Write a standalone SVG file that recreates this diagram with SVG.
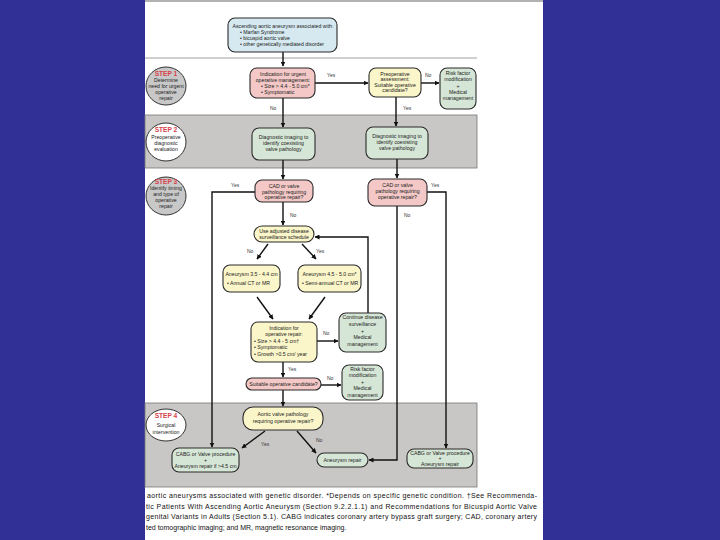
<svg xmlns="http://www.w3.org/2000/svg" width="720" height="540" viewBox="0 0 720 540">
<style>
.t{font-family:"Liberation Sans",Arial,sans-serif;font-size:5.2px;fill:#222;text-anchor:middle}
.l{text-anchor:start}
.lb{font-family:"Liberation Sans",Arial,sans-serif;font-size:5px;fill:#333}
.st{font-family:"Liberation Sans",Arial,sans-serif;font-size:6.6px;font-weight:bold;fill:#d8414a;text-anchor:middle}
.cap{font-family:"Liberation Sans",Arial,sans-serif;font-size:7px;fill:#111}
.box{stroke:#2a2a2a;stroke-width:1.1}
.blue{fill:#d6e9f1}.pink{fill:#f3c8c6}.yel{fill:#fbf6c9}.grn{fill:#d6e6d6}
.c{fill:none;stroke:#111;stroke-width:1.4}
.circ{stroke:#333;stroke-width:1}
</style>
<defs>
<marker id="ah" viewBox="0 0 10 10" refX="9" refY="5" markerWidth="5" markerHeight="5" markerUnits="userSpaceOnUse" orient="auto">
<path d="M0,0 L10,5 L0,10 z" fill="#111"/>
</marker>
</defs>
<rect x="0" y="0" width="720" height="540" fill="#303096"/>
<rect x="145" y="0" width="398" height="540" fill="#ffffff"/>
<g id="bands">
<line x1="145" y1="1" x2="543" y2="1" stroke="#999" stroke-width="1.5"/>
<line x1="145" y1="58" x2="477" y2="58" stroke="#888" stroke-width="0.8"/>
<rect x="145" y="115" width="332" height="53" fill="#c9c7c5" stroke="#777" stroke-width="0.8"/>
<rect x="145" y="403" width="332" height="84" fill="#c9c7c5" stroke="#777" stroke-width="0.8"/>
</g>
<g id="steps">
<g id="step1"><ellipse cx="166" cy="86" rx="20" ry="19" fill="#c8c8c8" class="circ"/>
<text class="st" x="166" y="76">STEP 1</text>
<text class="t" x="166" y="82">Determine</text>
<text class="t" x="166" y="88">need for urgent</text>
<text class="t" x="166" y="94">operative</text>
<text class="t" x="166" y="100">repair</text></g>
<g id="step2"><ellipse cx="166" cy="142" rx="20" ry="19" fill="#ffffff" class="circ"/>
<text class="st" x="166" y="132">STEP 2</text>
<text class="t" x="166" y="139">Preoperative</text>
<text class="t" x="166" y="145">diagnostic</text>
<text class="t" x="166" y="151">evaluation</text></g>
<g id="step3"><ellipse cx="166" cy="196" rx="20" ry="19" fill="#c8c8c8" class="circ"/>
<text class="st" x="166" y="184">STEP 3</text>
<text class="t" x="166" y="190">Identify timing</text>
<text class="t" x="166" y="196">and type of</text>
<text class="t" x="166" y="202">operative</text>
<text class="t" x="166" y="208">repair</text></g>
<g id="step4"><ellipse cx="166" cy="425" rx="20" ry="16" fill="#ffffff" class="circ"/>
<text class="st" x="166" y="418">STEP 4</text>
<text class="t" x="166" y="427">Surgical</text>
<text class="t" x="166" y="434">intervention</text></g>
</g>
<g id="connectors">
<path class="c" d="M283,52 V66" marker-end="url(#ah)"/>
<path class="c" d="M315,83 H368" marker-end="url(#ah)"/>
<path class="c" d="M283,98 V127" marker-end="url(#ah)"/>
<path class="c" d="M421,83 H439" marker-end="url(#ah)"/>
<path class="c" d="M396,97 V126" marker-end="url(#ah)"/>
<path class="c" d="M283,160 V179" marker-end="url(#ah)"/>
<path class="c" d="M397,159 V178" marker-end="url(#ah)"/>
<path class="c" d="M255,192 H212 V447" marker-end="url(#ah)"/>
<path class="c" d="M283,202 V225" marker-end="url(#ah)"/>
<path class="c" d="M427,192 H446 V448" marker-end="url(#ah)"/>
<path class="c" d="M397,206 V460 H369" marker-end="url(#ah)"/>
<path class="c" d="M268,244 L257,259" marker-end="url(#ah)"/>
<path class="c" d="M302,244 L316,259" marker-end="url(#ah)"/>
<path class="c" d="M257,297 L273,319" marker-end="url(#ah)"/>
<path class="c" d="M325,297 L309,319" marker-end="url(#ah)"/>
<path class="c" d="M317,341 H338" marker-end="url(#ah)"/>
<path class="c" d="M368,313 V237 H315" marker-end="url(#ah)"/>
<path class="c" d="M283,362 V377" marker-end="url(#ah)"/>
<path class="c" d="M321,385 H341" marker-end="url(#ah)"/>
<path class="c" d="M283,390 V406" marker-end="url(#ah)"/>
<path class="c" d="M265,431 L242,448" marker-end="url(#ah)"/>
<path class="c" d="M297,431 L316,453" marker-end="url(#ah)"/>
<text class="lb" x="327" y="77">Yes</text>
<text class="lb" x="270" y="110">No</text>
<text class="lb" x="425" y="77">No</text>
<text class="lb" x="403" y="110">Yes</text>
<text class="lb" x="231" y="187">Yes</text>
<text class="lb" x="290" y="217">No</text>
<text class="lb" x="431" y="187">Yes</text>
<text class="lb" x="404" y="217">No</text>
<text class="lb" x="247" y="253">No</text>
<text class="lb" x="316" y="253">Yes</text>
<text class="lb" x="323" y="335">No</text>
<text class="lb" x="288" y="371">Yes</text>
<text class="lb" x="327" y="380">No</text>
<text class="lb" x="261" y="446">Yes</text>
<text class="lb" x="316" y="442">No</text>
</g>
<g id="n-start"><rect class="box blue" x="228" y="18" width="109" height="34" rx="7"/>
<text class="t" x="283" y="28">Ascending aortic aneurysm associated with:</text>
<text class="t l" x="240" y="34">• Marfan Syndrome</text>
<text class="t l" x="240" y="40">• bicuspid aortic valve</text>
<text class="t l" x="240" y="46">• other genetically mediated disorder</text></g>
<g id="n-urgent"><rect class="box pink" x="250" y="68" width="65" height="30" rx="7"/>
<text class="t" x="283" y="76">Indication for urgent</text>
<text class="t" x="283" y="82">operative management:</text>
<text class="t l" x="261" y="88">• Size &gt; 4.4 - 5.0 cm*</text>
<text class="t l" x="261" y="94">• Symptomatic</text></g>
<g id="n-preop"><rect class="box yel" x="369" y="68" width="52" height="29" rx="7"/>
<text class="t" x="395" y="76">Preoperative</text>
<text class="t" x="395" y="81">assessment:</text>
<text class="t" x="395" y="87">Suitable operative</text>
<text class="t" x="395" y="92">candidate?</text></g>
<g id="n-risk1"><rect class="box grn" x="440" y="68" width="36" height="41" rx="7"/>
<text class="t" x="458" y="75">Risk factor</text>
<text class="t" x="458" y="81">modification</text>
<text class="t" x="458" y="88">+</text>
<text class="t" x="458" y="94">Medical</text>
<text class="t" x="458" y="100">management</text></g>
<g id="n-diag1"><rect class="box grn" x="252" y="128" width="63" height="32" rx="7"/>
<text class="t" x="283.5" y="139">Diagnostic imaging to</text>
<text class="t" x="283.5" y="145">identify coexisting</text>
<text class="t" x="283.5" y="151">valve pathology</text></g>
<g id="n-diag2"><rect class="box grn" x="366" y="127" width="62" height="32" rx="7"/>
<text class="t" x="397" y="138">Diagnostic imaging to</text>
<text class="t" x="397" y="144">identify coexisting</text>
<text class="t" x="397" y="150">valve pathology</text></g>
<g id="n-cad1"><rect class="box pink" x="255" y="180" width="58" height="22" rx="7"/>
<text class="t" x="284" y="188">CAD or valve</text>
<text class="t" x="284" y="194">pathology requiring</text>
<text class="t" x="284" y="199">operative repair?</text></g>
<g id="n-cad2"><rect class="box pink" x="368" y="179" width="59" height="27" rx="7"/>
<text class="t" x="397.5" y="187">CAD or valve</text>
<text class="t" x="397.5" y="193">pathology requiring</text>
<text class="t" x="397.5" y="199">operative repair?</text></g>
<g id="n-surv"><rect class="box yel" x="254" y="226" width="60" height="16" rx="8"/>
<text class="t" x="284" y="233">Use adjusted disease</text>
<text class="t" x="284" y="239">surveillance schedule</text></g>
<g id="n-an1"><rect class="box yel" x="223" y="265" width="57" height="27" rx="7"/>
<text class="t" x="251.5" y="276">Aneurysm 3.5 - 4.4 cm</text>
<text class="t l" x="227" y="285">• Annual CT or MR</text></g>
<g id="n-an2"><rect class="box yel" x="298" y="265" width="63" height="27" rx="7"/>
<text class="t" x="329.5" y="276">Aneurysm 4.5 - 5.0 cm*</text>
<text class="t l" x="302" y="285">• Semi-annual CT or MR</text></g>
<g id="n-ind"><rect class="box yel" x="251" y="322" width="66" height="40" rx="7"/>
<text class="t" x="284" y="330">Indication for</text>
<text class="t" x="284" y="336">operative repair:</text>
<text class="t l" x="254" y="343">• Size &gt; 4.4 - 5 cm†</text>
<text class="t l" x="254" y="349">• Symptomatic</text>
<text class="t l" x="254" y="356">• Growth &gt;0.5 cm/ year</text></g>
<g id="n-cont"><rect class="box grn" x="339" y="313" width="47" height="39" rx="7"/>
<text class="t" x="362.5" y="319">Continue disease</text>
<text class="t" x="362.5" y="326">surveillance</text>
<text class="t" x="362.5" y="333">+</text>
<text class="t" x="362.5" y="339">Medical</text>
<text class="t" x="362.5" y="346">management</text></g>
<g id="n-suit"><rect class="box pink" x="246" y="378" width="75" height="12" rx="6"/>
<text class="t" x="283.5" y="386">Suitable operative candidate?</text></g>
<g id="n-risk2"><rect class="box grn" x="342" y="365" width="41" height="35" rx="7"/>
<text class="t" x="362.5" y="371">Risk factor</text>
<text class="t" x="362.5" y="377">modification</text>
<text class="t" x="362.5" y="384">+</text>
<text class="t" x="362.5" y="390">Medical</text>
<text class="t" x="362.5" y="397">management</text></g>
<g id="n-aortic"><rect class="box yel" x="243" y="407" width="80" height="23" rx="10"/>
<text class="t" x="283" y="416">Aortic valve pathology</text>
<text class="t" x="283" y="423">requiring operative repair?</text></g>
<g id="n-cabg1"><rect class="box grn" x="172" y="448" width="67" height="24" rx="7"/>
<text class="t" x="205.5" y="456">CABG or Valve procedure</text>
<text class="t" x="205.5" y="462">+</text>
<text class="t" x="205.5" y="468">Aneurysm repair if &gt;4.5 cm</text></g>
<g id="n-anrep"><rect class="box grn" x="317" y="453" width="51" height="14" rx="7"/>
<text class="t" x="342.5" y="462">Aneurysm repair</text></g>
<g id="n-cabg2"><rect class="box grn" x="407" y="449" width="66" height="19" rx="7"/>
<text class="t" x="440" y="455">CABG or Valve procedure</text>
<text class="t" x="440" y="460">+</text>
<text class="t" x="440" y="466">Aneurysm repair</text></g>
<g id="caption">
<text class="cap" x="147" y="498" textLength="390" lengthAdjust="spacing">aortic aneurysms associated with genetic disorder. *Depends on specific genetic condition. †See Recommenda-</text>
<text class="cap" x="146" y="508.5" textLength="391" lengthAdjust="spacing">tic Patients With Ascending Aortic Aneurysm (Section 9.2.2.1.1) and Recommendations for Bicuspid Aortic Valve</text>
<text class="cap" x="146" y="519" textLength="391" lengthAdjust="spacing">genital Variants in Adults (Section 5.1). CABG indicates coronary artery bypass graft surgery; CAD, coronary artery</text>
<text class="cap" x="146" y="529.5">ted tomographic imaging; and MR, magnetic resonance imaging.</text>
</g>
</svg>
